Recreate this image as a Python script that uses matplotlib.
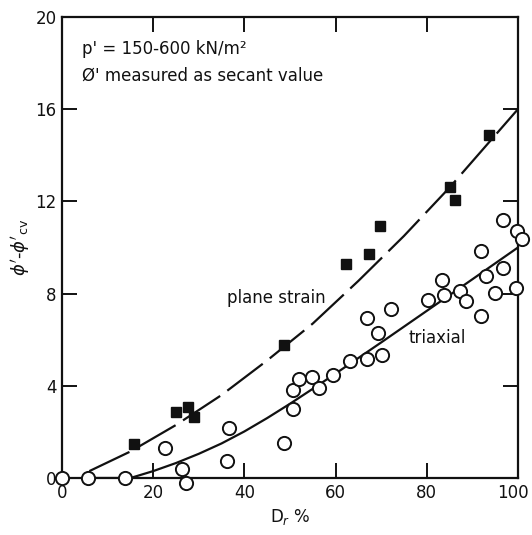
import matplotlib
matplotlib.use("Agg")
import matplotlib.pyplot as plt
from matplotlib.transforms import ScaledTranslation

# Plane strain tests (filled squares)
ps_dr = [15.9, 24.9, 27.7, 29.0, 48.8, 62.2, 67.3, 69.8, 85.1, 86.3, 93.6]
ps_dphi = [1.48, 2.88, 3.08, 2.66, 5.77, 9.28, 9.73, 10.93, 12.64, 12.07, 14.9]

# Triaxial tests (open circles)
tx_dr = [0.0, 5.8, 13.8, 22.7, 26.3, 27.3, 36.6, 36.1, 48.8, 50.6, 50.7, 52.0,
         54.8, 56.4, 59.5, 63.2, 66.8, 70.3, 69.4, 66.8, 72.2, 80.3, 83.8, 83.3,
         87.3, 88.6, 91.8, 93.1, 92.0, 96.8, 95.0, 99.6, 96.8, 99.7, 100.8]
tx_dphi = [0.0, 0.0, 0.0, 1.29, 0.38, -0.2, 2.16, 0.75, 1.5, 2.99, 3.82, 4.3,
           4.4, 3.92, 4.47, 5.08, 5.18, 5.34, 6.28, 6.95, 7.33, 7.72, 7.95, 8.59,
           8.13, 7.69, 7.03, 8.76, 9.85, 9.1, 8.01, 8.23, 11.19, 10.7, 10.36]

# Trend curves traced through the data
ps_curve_x = [6.0, 15, 25, 35, 45, 55, 65, 75, 85, 100]
ps_curve_y = [0.3, 1.15, 2.3, 3.6, 5.1, 6.7, 8.55, 10.5, 12.6, 16.0]
tx_curve_x = [15, 20, 25, 30, 35, 40, 45, 50, 55, 60, 70, 80, 90, 100]
tx_curve_y = [0.0, 0.3, 0.65, 1.05, 1.5, 2.02, 2.6, 3.22, 3.87, 4.53, 5.88, 7.25, 8.62, 10.0]
tx_link_x = [5.8, 13.8]
tx_link_y = [0.0, 0.0]

x_ticks = [0, 20, 40, 60, 80, 100]
y_ticks = [0, 4, 8, 12, 16, 20]

ink = "#111111"
plt.rcParams["font.family"] = ["DejaVu Sans"]

fig = plt.figure(figsize=(5.32, 5.35), dpi=100)
ax = fig.add_axes([0.1165, 0.1065, 0.857, 0.8617])

ax.plot(ps_curve_x, ps_curve_y, color=ink, lw=1.6, dashes=(20, 4), zorder=2,
        solid_capstyle="butt", dash_capstyle="butt")
ax.plot(tx_curve_x, tx_curve_y, color=ink, lw=1.6, zorder=2)
ax.plot(tx_link_x, tx_link_y, color=ink, lw=1.6, zorder=2)

ax.plot(ps_dr, ps_dphi, linestyle="none", marker="s", markersize=7,
        markerfacecolor=ink, markeredgecolor=ink, zorder=4, clip_on=False)
ax.plot(tx_dr, tx_dphi, linestyle="none", marker="o", markersize=9.5,
        markerfacecolor="white", markeredgecolor=ink, markeredgewidth=1.4,
        zorder=3, clip_on=False)

ax.set_xlim(0, 100)
ax.set_ylim(0, 20)
ax.set_xticks(x_ticks)
ax.set_yticks(y_ticks)
ax.tick_params(direction="in", length=11, width=1.4, color=ink,
               labelsize=12, labelcolor=ink, top=True, right=True, pad=4)
for s in ax.spines.values():
    s.set_linewidth(1.6)
    s.set_color(ink)

# keep the last x tick label inside the figure
last = ax.get_xticklabels()[-1]
last.set_transform(last.get_transform() + ScaledTranslation(-5 / 100, 0, fig.dpi_scale_trans))

ax.text(4.5, 18.6, "p' = 150-600 kN/m²", fontsize=12, color=ink, va="center")
ax.text(4.5, 17.45, "Ø' measured as secant value", fontsize=12, color=ink, va="center")
ax.text(36.2, 7.8, "plane strain", fontsize=12, color=ink, va="center")
ax.text(75.9, 6.07, "triaxial", fontsize=12, color=ink, va="center")

ax.set_xlabel(r"D$_r$ %", fontsize=12, color=ink, labelpad=4)
ax.set_ylabel(r"$\phi'$-$\phi'_{\mathrm{cv}}$", fontsize=13, color=ink, labelpad=2)

fig.savefig("out.png", dpi=100, facecolor="white")
